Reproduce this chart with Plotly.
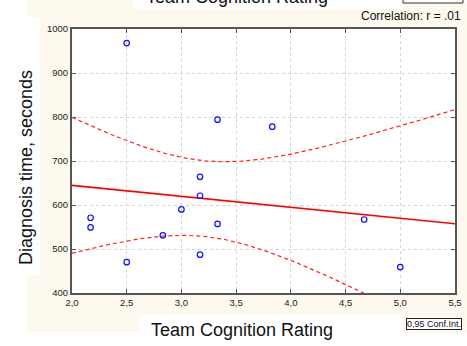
import numpy as np
import plotly.graph_objects as go

# ---- data ----
team_cognition = [2.5, 2.17, 2.17, 2.5, 2.83, 3.33, 3.83, 3.17, 3.17, 3.0, 3.33, 3.17, 4.67, 5.0]
diagnosis_time = [968, 571, 549, 470, 531, 794, 778, 664, 621, 590, 557, 487, 567, 459]
x_ticks = [2.0, 2.5, 3.0, 3.5, 4.0, 4.5, 5.0, 5.5]
y_ticks = [400, 500, 600, 700, 800, 900, 1000]
T_975_DF12 = 2.1788  # Student t quantile for the 0.95 confidence band

# ---- regression line and 0.95 confidence band computed from the data ----
x = np.array(team_cognition, dtype=float)
y = np.array(diagnosis_time, dtype=float)
n = len(x)
slope, intercept = np.polyfit(x, y, 1)
resid = y - (slope * x + intercept)
s = np.sqrt(np.sum(resid ** 2) / (n - 2))
sxx = np.sum((x - x.mean()) ** 2)
xg = np.linspace(x_ticks[0], x_ticks[-1], 300)
yg = slope * xg + intercept
half = T_975_DF12 * s * np.sqrt(1.0 / n + (xg - x.mean()) ** 2 / sxx)

W, H = 467, 346
L, R, T, B = 72, 12, 29, 53


def px(v):
    return (v - L) / (W - L - R)


def py(v):
    return (H - B - v) / (H - T - B)


CREAM = "#FDF9EE"

fig = go.Figure()
fig.add_trace(go.Scatter(x=xg, y=yg + half, mode="lines",
                         line=dict(color="#FF2020", width=1.2, dash="4px,3px"), hoverinfo="skip"))
fig.add_trace(go.Scatter(x=xg, y=yg - half, mode="lines",
                         line=dict(color="#FF2020", width=1.2, dash="4px,3px"), hoverinfo="skip"))
fig.add_trace(go.Scatter(x=xg, y=yg, mode="lines",
                         line=dict(color="#FF0000", width=1.6), hoverinfo="skip"))
fig.add_trace(go.Scatter(x=team_cognition, y=diagnosis_time, mode="markers",
                         marker=dict(symbol="circle-open", size=5.5, color="#1010FF",
                                     line=dict(width=1.2, color="#1010FF"))))

shapes = []


def rect(x0, y0, x1, y1, fill, line=None):
    d = dict(type="rect", xref="paper", yref="paper",
             x0=px(x0), x1=px(x1), y0=py(y1), y1=py(y0),
             fillcolor=fill, layer="below", line=dict(width=0))
    if line:
        d["line"] = line
    shapes.append(d)


# cream background pieces
rect(27, 9, 467, 315, CREAM)
rect(27, 0, 133, 9, CREAM)
rect(403, 3, 467, 9, CREAM)
rect(27, 315, 139, 332, CREAM)
rect(403, 315, 467, 333, CREAM)
# white panel behind the y title
rect(0, 17, 40, 275, "white")
# white plot area
rect(L, T, W - R, H - B, "white")
# little box at top right (cut off)
rect(403, -8, 463, 3, "white", dict(color="#333333", width=1))

fig.update_layout(
    width=W, height=H, autosize=False,
    margin=dict(l=L, r=R, t=T, b=B, pad=0, autoexpand=False),
    paper_bgcolor="white", plot_bgcolor="rgba(0,0,0,0)",
    separators=", ",
    showlegend=False,
    font=dict(family="Arial, Liberation Sans, sans-serif", color="#222222"),
    shapes=shapes,
)
axis_common = dict(showline=True, linecolor="#555555", linewidth=2, mirror="ticks",
                   ticks="inside", ticklen=4, tickcolor="#555555", tickwidth=1,
                   showgrid=True, gridcolor="#D4D4D4", gridwidth=1, griddash="dot",
                   zeroline=False, tickfont=dict(size=9.5, color="#222222"))
fig.update_xaxes(range=[x_ticks[0], x_ticks[-1]], tickvals=x_ticks, tickformat=".1f", **axis_common)
fig.update_yaxes(range=[y_ticks[0], y_ticks[-1]], tickvals=y_ticks, tickformat="d", **axis_common)

ann = [
    dict(text="Team Cognition Rating", x=px(237), y=py(9), xanchor="center", yanchor="bottom",
         font=dict(size=18, color="#111111")),
    dict(text="Team Cognition Rating", x=px(242), y=py(330), xanchor="center", yanchor="middle",
         font=dict(size=18, color="#111111")),
    dict(text="Diagnosis time, seconds", x=px(26), y=py(168), xanchor="center", yanchor="middle",
         textangle=-90, font=dict(size=18, color="#111111")),
    dict(text="Correlation: r = .01", x=px(463), y=py(15.5), xanchor="right", yanchor="middle",
         font=dict(size=12, color="#111111")),
    dict(text="0,95 Conf.Int.", x=px(406), y=py(318), xanchor="left", yanchor="top",
         font=dict(size=9, color="#111111"), bordercolor="#222222", borderwidth=1,
         borderpad=0, bgcolor="white"),
]
for a in ann:
    a.update(xref="paper", yref="paper", showarrow=False)
fig.update_layout(annotations=ann)

fig.write_html(
    "out.html",
    config={"responsive": False, "displayModeBar": False, "staticPlot": True},
    post_script=("document.documentElement.style.overflow='hidden';"
                 "document.body.style.overflow='hidden';"
                 "document.body.style.margin='0px';"),
)
